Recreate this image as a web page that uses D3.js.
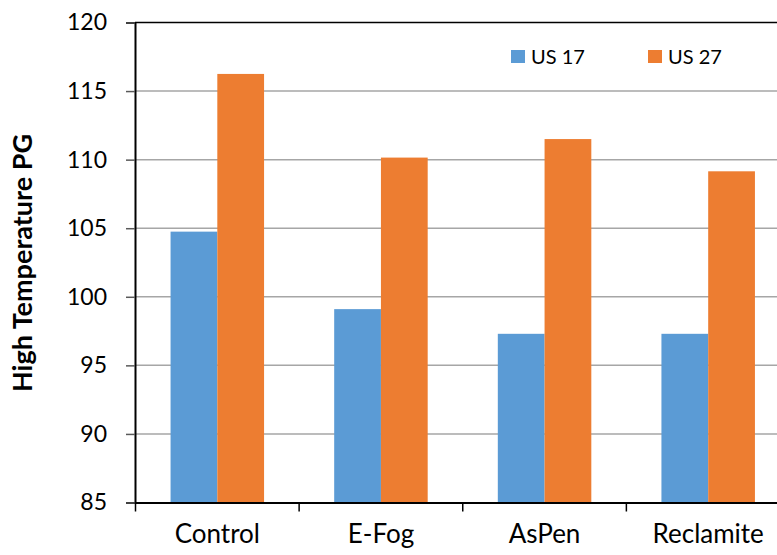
<!DOCTYPE html>
<html>
<head>
<meta charset="utf-8">
<script src="https://cdn.jsdelivr.net/npm/d3@7"></script>
<style>
  body { margin: 0; background: #fff; }
  text { font-family: Lato, "Open Sans", sans-serif; }
</style>
</head>
<body>
<div id="chart-area"></div>
<script>
var categories = ["Control", "E-Fog", "AsPen", "Reclamite"];
var seriesNames = ["US 17", "US 27"];
var us17 = [104.75, 99.1, 97.3, 97.3];
var us27 = [116.25, 110.15, 111.5, 109.15];
var yTicks = [85, 90, 95, 100, 105, 110, 115, 120];
var colorList = ["#5B9BD5", "#ED7D31"];

var width = 777;
var height = 555;
var svg = d3.select("#chart-area").append("svg")
    .attr("width", width)
    .attr("height", height);

// plot area runs a bit past the right edge of the picture
var x = d3.scaleBand()
    .domain(categories)
    .range([135.5, 790]);

var y = d3.scaleLinear()
    .domain([85, 120])
    .range([502.5, 22.5]);

var inner = d3.scaleBand()
    .domain(seriesNames)
    .range([0, x.bandwidth()])
    .paddingOuter(0.75)
    .paddingInner(0);

var colors = d3.scaleOrdinal()
    .domain(seriesNames)
    .range(colorList);

// gridlines
svg.append("g")
    .selectAll("line")
    .data(yTicks.slice(1, -1))
    .enter()
    .append("line")
        .attr("x1", 135)
        .attr("x2", width)
        .attr("y1", (d)=>{return y(d);})
        .attr("y2", (d)=>{return y(d);})
        .attr("stroke", "#a6a6a6")
        .attr("stroke-width", 1.5);

// top line at 120
svg.append("line")
    .attr("x1", 135).attr("x2", width)
    .attr("y1", y(120)).attr("y2", y(120))
    .attr("stroke", "#000").attr("stroke-width", 1.5);

var rows = categories.map((c, i)=>{return {cat: c, vals: [us17[i], us27[i]]};});

var groups = svg.selectAll("g.grp").data(rows).enter()
    .append("g")
    .attr("class", "grp")
    .attr("transform", (d)=>{return "translate(" + x(d.cat) + ",0)";});

groups.selectAll("rect")
    .data((d)=>{return d.vals.map((v, j)=>{return {name: seriesNames[j], v: v};});})
    .enter()
    .append("rect")
        .attr("x", (d)=>{return inner(d.name);})
        .attr("y", (d)=>{return y(d.v);})
        .attr("width", inner.bandwidth())
        .attr("height", (d)=>{return y(85) - y(d.v);})
        .attr("fill", (d)=>{return colors(d.name);});

// left axis
var leftAxis = d3.axisLeft(y)
    .tickValues(yTicks)
    .tickSize(9)
    .tickPadding(19)
    .tickFormat(d3.format("d"));
var gy = svg.append("g")
    .attr("transform", "translate(135,0)")
    .call(leftAxis);
gy.select(".domain").attr("stroke", "#000").attr("stroke-width", 2);
gy.selectAll(".tick line").attr("stroke", "#595959").attr("stroke-width", 1.5);
gy.selectAll("text").attr("font-size", "23px").attr("fill", "#000");

// bottom axis
var bottomAxis = d3.axisBottom(x).tickSize(0).tickPadding(22);
var gx = svg.append("g")
    .attr("transform", "translate(0," + y(85) + ")")
    .call(bottomAxis);
gx.select(".domain").attr("stroke", "#000").attr("stroke-width", 2);
gx.selectAll("text").attr("font-size", "26px").attr("fill", "#000");

// category separator ticks
svg.append("g")
    .selectAll("line")
    .data(categories)
    .enter()
    .append("line")
        .attr("x1", (d)=>{return x(d);})
        .attr("x2", (d)=>{return x(d);})
        .attr("y1", y(85))
        .attr("y2", y(85) + 9)
        .attr("stroke", "#000")
        .attr("stroke-width", 1.5);

// y axis label
svg.append("text")
    .attr("x", -263)
    .attr("y", 32)
    .attr("transform", "rotate(-90)")
    .attr("text-anchor", "middle")
    .attr("font-size", "27px")
    .attr("font-weight", "bold")
    .text("High Temperature PG");

// legend
var legendX = [511, 648];
var legend = svg.selectAll("g.legend").data(seriesNames).enter()
    .append("g")
    .attr("class", "legend")
    .attr("transform", (d, i)=>{return "translate(" + legendX[i] + ",50)";});
legend.append("rect")
    .attr("width", 14).attr("height", 13)
    .attr("fill", (d)=>{return colors(d);});
legend.append("text")
    .attr("x", 20)
    .attr("y", 13.5)
    .attr("font-size", "20px")
    .text((d)=>{return d;});
</script>
</body>
</html>
